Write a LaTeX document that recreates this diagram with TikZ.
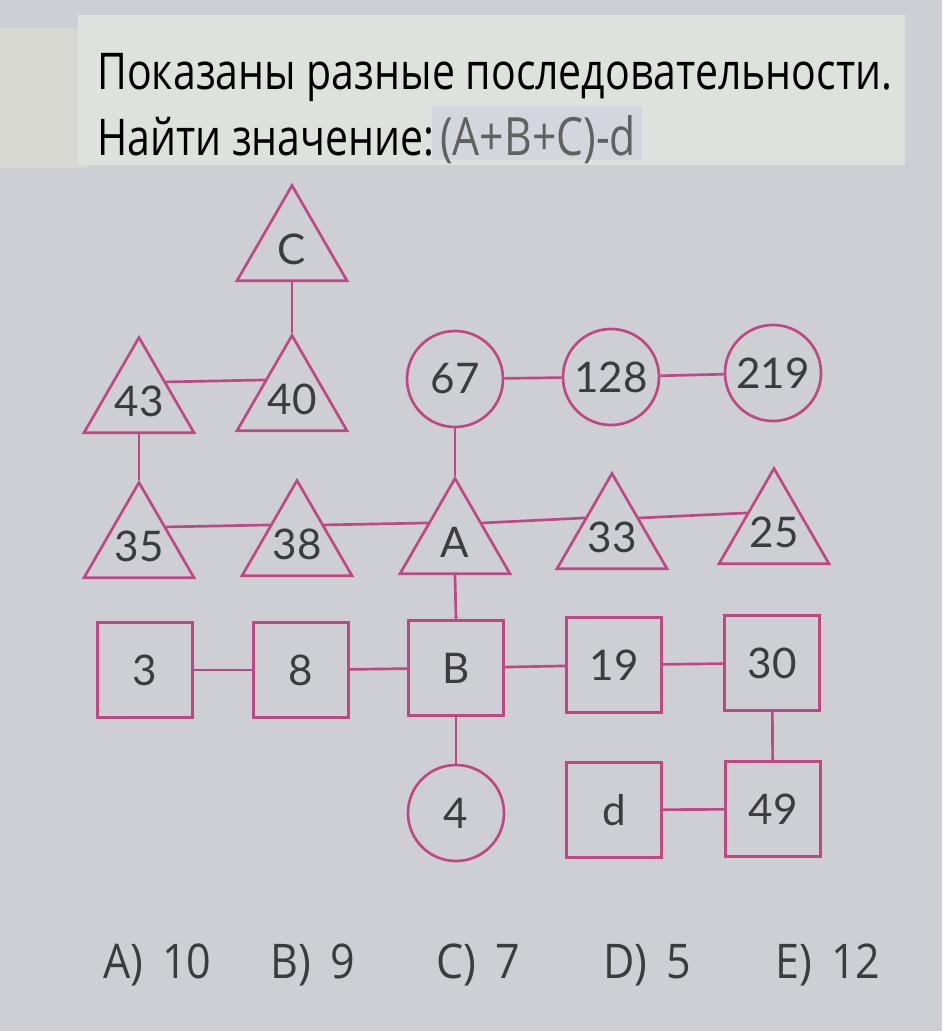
\documentclass[tikz,border=0pt]{standalone}
\usepackage{fontspec}
\setmainfont{Lato}
\newfontfamily\headfont[FakeStretch=0.81]{Open Sans}
\newfontfamily\answerfont[FakeStretch=0.9]{Open Sans}
\usetikzlibrary{shapes.geometric}
\definecolor{paper}{RGB}{206,207,213}
\definecolor{headpaper}{RGB}{223,225,222}
\definecolor{sidepaper}{RGB}{214,216,209}
\definecolor{formulabg}{RGB}{211,214,220}
\definecolor{rose}{RGB}{192,72,130}
\definecolor{ink}{RGB}{60,60,62}
\tikzstyle{tri}=[regular polygon,regular polygon sides=3,draw=rose,line width=1.9pt,minimum size=3.175cm,inner sep=0pt]
\tikzstyle{tritext}=[inner sep=0pt,text=ink,font=\fontsize{30}{34}\selectfont]
\tikzstyle{sq}=[rectangle,draw=rose,line width=1.9pt,minimum width=2.375cm,minimum height=2.375cm,inner sep=0pt,text=ink,font=\fontsize{30}{34}\selectfont]
\tikzstyle{ring}=[circle,draw=rose,line width=1.9pt,minimum size=2.4cm,inner sep=0pt,text=ink,font=\fontsize{30}{34}\selectfont]
\tikzstyle{link}=[draw=rose,line width=1.9pt]
\tikzstyle{answer}=[anchor=base west,inner sep=0pt,text=ink,font=\answerfont\fontsize{34}{38}\selectfont]

\begin{document}
\begin{tikzpicture}[x=0.025cm,y=-0.025cm]
    % Paper and heading
    \fill[paper] (0,0) rectangle (942,1031);
    \useasboundingbox (0,0) rectangle (942,1031);
    \fill[sidepaper] (0,28) rectangle (88,168);
    \fill[headpaper] (78,15) rectangle (905,165);
    \fill[formulabg] (432,106) rectangle (642,160);
    \node[anchor=base west,inner sep=0pt,font=\headfont\fontsize{36}{40}\selectfont] (line1) at (97,90) {Показаны разные последовательности.};
    \node[anchor=base west,inner sep=0pt,font=\headfont\fontsize{36}{40}\selectfont] (line2) at (97,155) {Найти значение:};
    \node[anchor=base west,inner sep=0pt,text=black!62,font=\headfont\fontsize{37.5}{40}\selectfont] (formula) at (440,155) {(A+B+C)-d};
    % Triangles
    \foreach \pos/\name/\val in {{(292,249)/tC/C}, {(292,399)/t40/40}, {(139,401)/t43/43},
                                 {(139,546)/t35/35}, {(297,544)/t38/38}, {(455,542)/tA/A},
                                 {(612,537)/t33/33}, {(774,532)/t25/25}}
        \node[tri,label={[tritext]center:\val}] (\name) at \pos {};
    % Circles
    \foreach \pos/\name/\val in {{(455,379)/c67/67}, {(611,377)/c128/128}, {(773,373)/c219/219},
                                 {(456,813)/c4/4}}
        \node[ring] (\name) at \pos {\val};
    % Squares
    \foreach \pos/\name/\val in {{(145,670)/s3/3}, {(301,670)/s8/8}, {(456,668)/sB/B},
                                 {(614,665)/s19/19}, {(772,663)/s30/30},
                                 {(614,810)/sd/d}, {(773,809)/s49/49}}
        \node[sq] (\name) at \pos {\val};
    % Connect the shapes
    \foreach \source/\dest in {t43/t40, t35/t38, t38/tA, tA/t33, t33/t25}
        \path[link] (\source.35) -- (\dest.145);
    \foreach \source/\dest in {tC.south/t40.corner 1, t43.south/t35.corner 1,
                               c67.south/tA.corner 1, tA.south/sB.north}
        \path[link] (\source) -- (\dest);
    \foreach \source/\dest in {c67/c128, c128/c219, s3/s8, s8/sB, sB/s19, s19/s30,
                               sB/c4, s30/s49, sd/s49}
        \path[link] (\source) -- (\dest);
    % Answers
    \foreach \pos/\name/\val in {{(103,978)/ansA/A)\ \,10}, {(270,978)/ansB/B)\ \,9}, {(436,978)/ansC/C)\ \,7},
                                 {(603,978)/ansD/D)\ \,5}, {(775,978)/ansE/E)\ \,12}}
        \node[answer] (\name) at \pos {\val};
\end{tikzpicture}
\end{document}
